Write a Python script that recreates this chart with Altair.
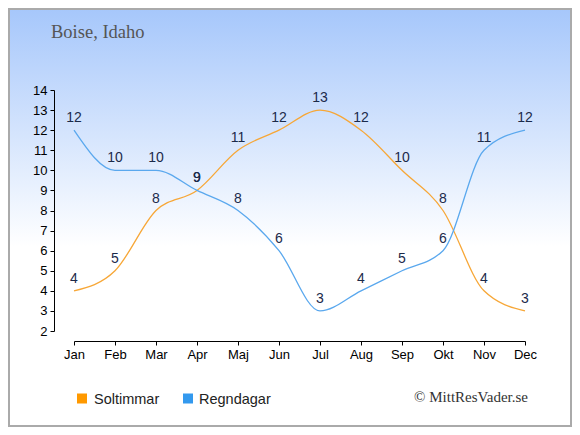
import altair as alt
import pandas as pd

months = ["Jan", "Feb", "Mar", "Apr", "Maj", "Jun", "Jul", "Aug", "Sep", "Okt", "Nov", "Dec"]
sun_hours = [4, 5, 8, 9, 11, 12, 13, 12, 10, 8, 4, 3]
rain_days = [12, 10, 10, 9, 8, 6, 3, 4, 5, 6, 11, 12]
series_names = ["Soltimmar", "Regndagar"]
line_colors = ["#f7a737", "#5aa8ee"]
legend_colors = ["#ff9900", "#3399ee"]
y_ticks = list(range(2, 15))
title_text = "Boise, Idaho"
credit_text = "\u00a9 MittResVader.se"

rows = []
for m, s, r in zip(months, sun_hours, rain_days):
    rows.append({"month": m, "series": series_names[0], "value": s})
    rows.append({"month": m, "series": series_names[1], "value": r})
df = pd.DataFrame(rows)

# layout (canvas 564x419, plot area origin at canvas 66,82)
W, H = 451, 241
PL, PT = 66, 82
CW, CH = 564, 419
LEG_SQ_X = [8, 114]
LEG_TX_X = [20, 125]

x_enc = alt.X(
    "month:O", sort=months,
    scale=alt.Scale(type="point", padding=0),
    axis=alt.Axis(title=None, labelAngle=0, offset=10, domainColor="#000",
                  tickColor="#000", tickSize=4, labelFontSize=13, labelColor="#000",
                  labelFont="Liberation Sans", labelPadding=3, zindex=1),
)
y_enc = alt.Y(
    "value:Q",
    scale=alt.Scale(domain=[2, 14], nice=False, zero=False),
    axis=alt.Axis(title=None, values=y_ticks, tickCount=13, offset=20, grid=False,
                  domainColor="#000", tickColor="#000", tickSize=4, labelFontSize=13,
                  labelColor="#000", labelFont="Liberation Sans", labelPadding=3, zindex=1,
                  labelOverlap=False),
)

bg = alt.Chart(pd.DataFrame({"a": [0]})).mark_rect(
    fill=alt.LinearGradient(
        gradient="linear",
        stops=[alt.GradientStop(color="#a6c7fb", offset=0),
               alt.GradientStop(color="#ffffff", offset=0.57),
               alt.GradientStop(color="#ffffff", offset=1)],
        x1=0, x2=0, y1=0, y2=1),
    stroke="#aaaaaa", strokeWidth=2,
).encode(
    x=alt.value(-PL + 1), x2=alt.value(CW - PL - 1),
    y=alt.value(-PT + 1), y2=alt.value(CH - PT - 1),
)

base = alt.Chart(df)

lines = base.mark_line(interpolate="monotone", strokeWidth=1.3).encode(
    x=x_enc, y=y_enc,
    stroke=alt.Stroke("series:N", scale=alt.Scale(domain=series_names, range=line_colors), legend=None),
)

labels = base.mark_text(dy=-8, baseline="alphabetic", fontSize=14, color="#1b2a4a",
                        font="Liberation Sans").encode(
    x=x_enc, y=y_enc, text="value:Q",
)

legend_layers = []
for i, name in enumerate(series_names):
    ld = pd.DataFrame({"name": [name]})
    sq = alt.Chart(ld).mark_square(size=100, filled=True, opacity=1, color=legend_colors[i]).encode(
        x=alt.value(LEG_SQ_X[i]), y=alt.value(308.5))
    tx = alt.Chart(ld).mark_text(align="left", baseline="alphabetic", fontSize=14.5,
                                 font="Liberation Sans", color="#222222").encode(
        x=alt.value(LEG_TX_X[i]), y=alt.value(313.5), text="name:N")
    legend_layers += [sq, tx]

title = alt.Chart(pd.DataFrame({"t": [title_text]})).mark_text(
    align="left", baseline="alphabetic", font="Liberation Serif", fontSize=18.5, color="#555555",
).encode(x=alt.value(-23), y=alt.value(-52.5), text="t:N")

credit = alt.Chart(pd.DataFrame({"t": [credit_text]})).mark_text(
    align="right", baseline="alphabetic", font="Liberation Serif", fontSize=15, color="#333333",
).encode(x=alt.value(454), y=alt.value(312), text="t:N")

chart = alt.layer(bg, lines, labels, *legend_layers, title, credit).properties(
    width=W, height=H,
    autosize=alt.AutoSizeParams(type="none"),
    padding={"left": PL, "top": PT, "right": CW - PL - W, "bottom": CH - PT - H},
    background="#ffffff",
).configure_view(stroke=None)

chart.save("out.html", embed_options={"renderer": "svg", "actions": False})
